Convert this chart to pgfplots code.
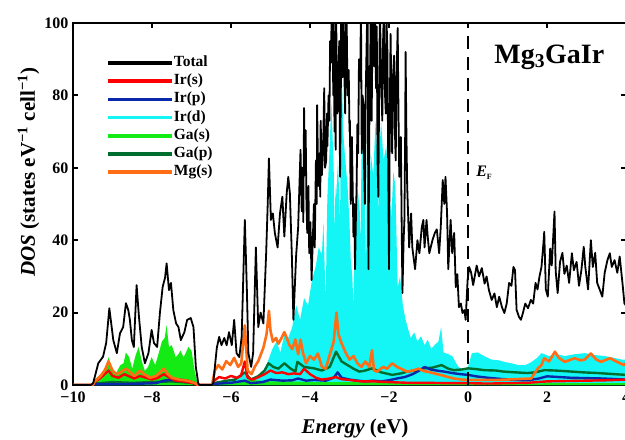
\documentclass[border=0pt]{standalone}
\usepackage{pgfplots}
\pgfplotsset{compat=1.18}
\usepackage{fontspec}
\setmainfont{Liberation Serif}

\definecolor{cIrs}{RGB}{255,0,0}
\definecolor{cIrp}{RGB}{10,40,170}
\definecolor{cIrd}{RGB}{20,245,245}
\definecolor{cGas}{RGB}{20,235,20}
\definecolor{cGap}{RGB}{0,110,45}
\definecolor{cMgs}{RGB}{255,110,20}

\begin{document}
\begin{tikzpicture}
\begin{axis}[
    name=ax,
    scale only axis,
    width=553pt, height=362pt,
    xmin=-10, xmax=4, ymin=0, ymax=100,
    xtick={-10,-8,-6,-4,-2,0,2,4},
    xticklabels={−10,−8,−6,−4,−2,0,2,4},
    ytick={0,20,40,60,80,100},
    yticklabels={0,20,40,60,80,100},
    minor tick num=0,
    major tick length=5pt,
    tick style={line width=1.8pt, black},
    axis line style={line width=2.5pt},
    ticklabel style={font=\fontsize{16}{18}\selectfont\bfseries},
    xticklabel style={yshift=-3pt},
    yticklabel style={xshift=-1pt},
    xlabel={\textit{Energy} (eV)},
    ylabel={\textit{DOS} (states eV\textsuperscript{−1} cell\textsuperscript{−1})},
    label style={font=\fontsize{21}{24}\selectfont\bfseries},
    xlabel style={at={(axis description cs:0.51,-0.133)}, anchor=base},
    ylabel style={at={(axis description cs:-0.069,0.588)}, anchor=base},
    legend style={draw=none, fill=none, inner sep=0pt,
        at={(axis description cs:0.06,0.908)}, anchor=north west,
        font=\fontsize{15.5}{17}\selectfont\bfseries,
        nodes={inner sep=0pt, text height=10pt, text depth=3pt},
        row sep=5.2pt},
    legend cell align=left,
    legend image code/.code={\draw[#1, line width=3.5pt] (0pt,0pt) -- (64pt,0pt);},
    /tikz/every even column/.append style={column sep=8pt},
    clip=true,
]
% legend
\addlegendimage{black}
\addlegendentry{Total}
\addlegendimage{cIrs}
\addlegendentry{Ir(s)}
\addlegendimage{cIrp}
\addlegendentry{Ir(p)}
\addlegendimage{cIrd}
\addlegendentry{Ir(d)}
\addlegendimage{cGas}
\addlegendentry{Ga(s)}
\addlegendimage{cGap}
\addlegendentry{Ga(p)}
\addlegendimage{cMgs}
\addlegendentry{Mg(s)}

% Ir(d) filled
\addplot[draw=none, fill=cIrd, forget plot] coordinates {
(-10,0) (-9.5,0) (-9.45,0.8) (-9.0,1.2) (-8.5,1) (-8.0,1.2) (-7.6,1.5) (-7.2,1.5) (-6.9,1) (-6.83,0)
(-6.48,0) (-6.45,0.8) (-6.0,1.2) (-5.65,3) (-5.5,1.2) (-5.2,3) (-5.05,7) (-4.95,10) (-4.85,12) (-4.75,9)
(-4.65,14) (-4.55,13) (-4.45,16) (-4.35,22) (-4.25,18) (-4.15,24) (-4.05,22) (-3.95,29) (-3.85,33) (-3.78,38)
(-3.70,36) (-3.66,45) (-3.62,29) (-3.60,24) (-3.58,40) (-3.56,52) (-3.51,64) (-3.46,78) (-3.40,60) (-3.38,40) (-3.36,55) (-3.35,50) (-3.29,62) (-3.24,45)
(-3.20,88) (-3.16,70) (-3.12,64) (-3.05,55) (-3.0,45) (-2.97,35) (-2.93,30) (-2.90,22) (-2.86,41) (-2.80,55) (-2.74,48) (-2.72,38) (-2.70,60)
(-2.68,73) (-2.62,55) (-2.60,45) (-2.58,30) (-2.56,68) (-2.52,45) (-2.46,64) (-2.40,58) (-2.34,73) (-2.28,60) (-2.26,45) (-2.24,65) (-2.20,73) (-2.14,62)
(-2.07,66) (-2.0,55) (-1.94,46) (-1.89,59) (-1.84,55) (-1.78,27) (-1.72,30) (-1.65,22) (-1.58,18) (-1.53,16)
(-1.45,13) (-1.36,14.5) (-1.28,12) (-1.19,13.5) (-1.10,11) (-1.02,12.5) (-0.93,10) (-0.85,11) (-0.75,12) (-0.68,16)
(-0.62,9) (-0.5,8.5) (-0.4,8) (-0.3,6) (-0.24,5) (-0.1,4) (0,5) (0.1,8.8) (0.25,9) (0.4,8)
(0.6,7) (0.8,6.8) (0.94,6.3) (1.1,6) (1.28,5.5) (1.45,5.5) (1.6,6.3) (1.75,7.5) (1.86,8.8) (2.05,8)
(2.25,8.5) (2.45,8) (2.7,8.5) (2.96,8.8) (3.2,8.3) (3.46,8) (3.7,7.5) (3.9,7) (4,7) (4,0)
} \closedcycle;

% Ga(s) filled
\addplot[draw=none, fill=cGas, forget plot] coordinates {
(-10,0) (-9.5,0) (-9.45,1.5) (-9.3,3) (-9.2,4) (-9.1,7.7) (-9.0,4) (-8.9,3.5) (-8.8,5.5) (-8.72,6)
(-8.66,9) (-8.58,7.7) (-8.5,4.5) (-8.42,8) (-8.34,10.5) (-8.26,6.6) (-8.18,3.9) (-8.1,5) (-8.01,7.7) (-7.92,5.5)
(-7.85,8) (-7.75,12) (-7.68,13) (-7.63,16.5) (-7.57,10.5) (-7.5,11) (-7.4,7.7) (-7.33,8.5) (-7.28,9.5) (-7.2,7.7)
(-7.14,9) (-7.08,10.5) (-7.0,9.5) (-6.95,6) (-6.92,3.9) (-6.85,0.5) (-6.83,0) (-6.48,0) (-6.45,0.5) (-6.0,0.8)
(-5.6,1.5) (-5.0,1) (-4.5,1) (-4.0,0.8) (-3.0,0.8) (-2.0,0.6) (-1.0,0.4) (0,0.3) (1,0.3) (2,0.5)
(3,0.5) (4,0.5) (4,0)
} \closedcycle;

% Ga(p)
\addplot[cGap, line width=2.4pt, line join=round, forget plot] coordinates {
(-10,0) (-9.5,0) (-9.45,0.4) (-9.0,0.8) (-8.5,0.6) (-8.0,0.8) (-7.5,1) (-7.0,0.6) (-6.85,0) (-6.48,0)
(-6.45,0.5) (-6.1,1.2) (-5.9,1.5) (-5.65,3.5) (-5.5,1.5) (-5.3,2.5) (-5.15,4) (-5.05,6) (-4.93,5) (-4.8,4.5)
(-4.65,6) (-4.5,4.6) (-4.37,3.7) (-4.32,6.4) (-4.15,5) (-3.9,4.6) (-3.7,4) (-3.5,5) (-3.34,9.2) (-3.2,6.5)
(-3.05,5.5) (-2.9,4.5) (-2.75,3.7) (-2.6,4) (-2.43,4.6) (-2.2,3.5) (-1.92,2.8) (-1.7,3.2) (-1.54,3.7) (-1.3,4)
(-1.1,4.6) (-0.9,4.8) (-0.67,5.5) (-0.5,4.5) (-0.36,4.1) (-0.15,4.3) (0,4.6) (0.2,4.4) (0.41,4.1) (0.7,4)
(0.9,3.7) (1.19,3.5) (1.5,3.3) (1.7,3.5) (1.93,4.1) (2.2,4) (2.5,3.8) (2.9,3.5) (3.3,3.3) (3.7,3) (4.0,2.8)
};

% Ir(p)
\addplot[cIrp, line width=2.4pt, line join=round, forget plot] coordinates {
(-10,0) (-9.5,0) (-9.45,0.2) (-8.5,0.3) (-7.9,0.5) (-7.7,1.2) (-7.5,1.5) (-7.3,1.5) (-7.1,1.2) (-6.9,0.5)
(-6.85,0) (-6.48,0) (-6.45,0.3) (-6.0,0.6) (-5.65,1.2) (-5.5,0.5) (-5.2,0.8) (-5.0,1.5) (-4.7,1.2) (-4.45,1.3)
(-4.3,1.8) (-4.1,1.2) (-3.9,1.4) (-3.6,1.2) (-3.4,2) (-3.3,3.5) (-3.2,2) (-3.0,1.5) (-2.8,1.2) (-2.6,1)
(-2.4,1.2) (-2.2,1) (-2.0,1.3) (-1.8,1.8) (-1.6,2.2) (-1.4,3) (-1.2,4.2) (-1.1,5) (-0.95,4.3) (-0.8,4)
(-0.6,3.7) (-0.4,3.3) (-0.2,3) (0,2.8) (0.2,2.4) (0.5,2) (0.8,1.7) (1.2,1.4) (1.5,1.3) (1.8,1.8)
(2.0,2.4) (2.3,2.2) (2.6,2) (3.0,1.9) (3.4,1.8) (3.8,1.6) (4.0,1.5)
};

% Ir(s)
\addplot[cIrs, line width=2.4pt, line join=round, forget plot] coordinates {
(-10,0) (-9.5,0) (-9.45,0.8) (-9.3,2) (-9.1,4) (-9.0,2.5) (-8.85,2) (-8.7,3) (-8.6,2.5) (-8.45,1.8)
(-8.3,2.5) (-8.15,2) (-8.0,1.5) (-7.85,2) (-7.7,3) (-7.55,2) (-7.4,1.2) (-7.2,1) (-6.95,0.5) (-6.85,0)
(-6.48,0) (-6.45,1) (-6.3,2.2) (-6.15,1.8) (-6.0,2.5) (-5.85,2) (-5.75,2.5) (-5.65,6.5) (-5.58,2) (-5.45,1.5)
(-5.3,2.2) (-5.15,3) (-5.0,4) (-4.85,3.3) (-4.7,3.5) (-4.55,3) (-4.4,3.2) (-4.25,3) (-4.15,4.5) (-4.0,3)
(-3.85,2) (-3.7,1.5) (-3.5,1.8) (-3.35,2.2) (-3.2,1.6) (-3.0,1.4) (-2.7,1) (-2.4,1) (-2.0,0.8) (-1.5,0.6)
(-1.0,0.6) (-0.5,0.5) (0,0.5) (0.5,0.4) (1.0,0.5) (1.5,0.6) (2.0,1) (2.5,1.1) (3.0,1.2) (3.5,1.3) (4.0,1.5)
};

% Mg(s)
\addplot[cMgs, line width=2.6pt, line join=round, forget plot] coordinates {
(-10,0) (-9.5,0) (-9.45,1) (-9.3,2.5) (-9.2,4) (-9.1,6.5) (-9.0,4) (-8.9,3) (-8.8,3.5) (-8.65,4.5)
(-8.55,3.5) (-8.45,2.5) (-8.3,4) (-8.2,3) (-8.05,2) (-7.9,2.5) (-7.8,3.5) (-7.7,4.5) (-7.6,3) (-7.5,2)
(-7.3,1.5) (-7.1,1.2) (-6.9,0.5) (-6.83,0) (-6.48,0) (-6.41,4) (-6.32,5.5) (-6.22,4.3) (-6.12,6.6) (-6.02,5.5)
(-5.92,7.5) (-5.82,5) (-5.74,6) (-5.65,16.5) (-5.58,4) (-5.48,3) (-5.40,5) (-5.31,6.6) (-5.18,10.3) (-5.10,14)
(-5.04,20.5) (-5.0,15) (-4.94,12) (-4.86,13) (-4.80,11.4) (-4.72,13) (-4.65,14.6) (-4.57,12.5) (-4.52,11) (-4.45,9.9)
(-4.37,12.6) (-4.30,8.5) (-4.24,12.5) (-4.18,9) (-4.10,6) (-4.0,8) (-3.9,7) (-3.80,8.7) (-3.70,5) (-3.60,4.5)
(-3.51,8) (-3.40,12) (-3.33,20) (-3.28,14) (-3.20,11.5) (-3.10,9) (-3.0,7) (-2.90,8) (-2.80,6) (-2.70,5)
(-2.60,6.5) (-2.50,5) (-2.43,9.6) (-2.38,4) (-2.30,3.7) (-2.15,5) (-2.05,4.5) (-1.92,6) (-1.80,5) (-1.70,4.5)
(-1.54,3.7) (-1.40,4) (-1.25,4.5) (-1.10,3.8) (-1.03,3.7) (-0.85,3.2) (-0.70,2.8) (-0.50,2.2) (-0.36,1.8) (-0.15,1.5)
(0,1.4) (0.4,1.4) (0.76,1.4) (1.2,1.6) (1.6,1.8) (1.77,4.6) (1.86,5.5) (1.93,7.4) (2.05,6.5) (2.2,9.2)
(2.3,7.5) (2.45,6.4) (2.6,7) (2.7,7.4) (2.85,6.8) (2.95,7) (3.11,8.7) (3.25,7) (3.37,6.4) (3.5,7)
(3.6,7.4) (3.75,6.5) (3.85,6) (3.95,5.5) (4.0,6)
};

% Total
\addplot[black, line width=1.8pt, line join=round, forget plot] coordinates {
(-10,0) (-9.55,0) (-9.49,0.5) (-9.36,6) (-9.24,7.8) (-9.16,11.6) (-9.08,21.2) (-8.98,12.4) (-8.89,8.8) (-8.81,14.3)
(-8.73,16) (-8.66,22.6) (-8.60,20.7) (-8.56,18) (-8.51,12.4) (-8.46,10.5) (-8.39,27.6) (-8.33,18.8) (-8.26,10.5) (-8.18,6)
(-8.09,8.8) (-8.01,15.2) (-7.95,11.6) (-7.87,10.5) (-7.80,19.9) (-7.73,27.1) (-7.67,29.6) (-7.63,33.6) (-7.57,26.2) (-7.52,28.2)
(-7.46,20.7) (-7.39,17) (-7.33,16) (-7.27,12.4) (-7.18,14.6) (-7.11,18) (-7.02,18.5) (-6.95,16) (-6.89,5) (-6.83,0.5)
(-6.80,0) (-6.48,0) (-6.45,0.5) (-6.36,10.2) (-6.30,13.3) (-6.24,11) (-6.17,13) (-6.11,11) (-6.05,14.6) (-5.98,11)
(-5.92,18) (-5.86,8.8) (-5.79,7.7) (-5.73,13.3) (-5.65,45.6) (-5.60,27) (-5.56,8.8) (-5.49,5) (-5.44,8.8) (-5.37,38)
(-5.31,16) (-5.25,20) (-5.18,17) (-5.11,36.4) (-5.07,50.2) (-5.04,62.6) (-4.99,45.6) (-4.94,47.4) (-4.89,42) (-4.82,38)
(-4.76,47.4) (-4.70,52) (-4.65,41) (-4.59,53) (-4.55,57.5) (-4.51,53) (-4.46,36) (-4.42,18) (-4.35,36) (-4.30,43.6)
(-4.24,65) (-4.21,48) (-4.19,60) (-4.17,45) (-4.15,76.5) (-4.13,58) (-4.11,70.4) (-4.09,50) (-4.07,42) (-4.04,55)
(-4.02,36.4) (-3.99,45) (-3.96,29) (-3.93,40) (-3.90,50) (-3.88,38) (-3.85,62) (-3.83,50) (-3.82,77.3) (-3.79,55)
(-3.76,64) (-3.74,52) (-3.73,73) (-3.70,58) (-3.68,62) (-3.66,70) (-3.64,82) (-3.62,60) (-3.59,62) (-3.57,75)
(-3.56,66) (-3.53,80) (-3.51,73) (-3.49,95) (-3.47,89) (-3.45,104) (-3.43,98) (-3.41,80) (-3.40,104) (-3.38,70)
(-3.37,87) (-3.35,65) (-3.34,104) (-3.31,75) (-3.28,82) (-3.26,95) (-3.24,57.5) (-3.22,80) (-3.21,104) (-3.18,85)
(-3.16,104) (-3.14,92) (-3.11,75) (-3.09,104) (-3.07,99) (-3.05,80) (-3.02,87) (-3.0,70) (-2.99,73) (-2.97,50)
(-2.94,68.5) (-2.92,55) (-2.90,41) (-2.88,50) (-2.86,32) (-2.84,45) (-2.82,55) (-2.80,72) (-2.78,64) (-2.76,90)
(-2.73,84) (-2.71,104) (-2.69,64) (-2.67,80) (-2.65,78) (-2.63,60) (-2.61,50) (-2.59,80) (-2.56,98) (-2.54,104)
(-2.52,32) (-2.50,70) (-2.48,86) (-2.46,104) (-2.44,73) (-2.42,95) (-2.39,104) (-2.37,88) (-2.35,104) (-2.33,82)
(-2.31,99) (-2.29,62) (-2.27,52) (-2.25,80) (-2.23,104) (-2.20,85) (-2.17,73) (-2.15,95) (-2.13,104) (-2.10,80)
(-2.08,75) (-2.06,100) (-2.04,92) (-2.02,60) (-2.00,32) (-1.98,75) (-1.96,97) (-1.94,80) (-1.92,64) (-1.90,85)
(-1.87,91) (-1.85,70) (-1.83,62) (-1.81,85) (-1.78,98.6) (-1.76,75) (-1.74,57.5) (-1.72,62) (-1.70,68.5) (-1.68,45)
(-1.66,25.4) (-1.63,40) (-1.61,45.6) (-1.59,70) (-1.58,92) (-1.56,70) (-1.54,55) (-1.51,45) (-1.49,38) (-1.44,47.4)
(-1.41,38) (-1.34,32) (-1.28,40) (-1.23,36.4) (-1.17,43.6)
(-1.13,45.6) (-1.10,38) (-1.05,45.6) (-1.02,41) (-0.98,36.4) (-0.90,40) (-0.84,42) (-0.79,43) (-0.73,36.4) (-0.69,43.6)
(-0.64,56.6) (-0.60,50) (-0.57,57.5) (-0.53,47.4) (-0.50,32) (-0.44,45.6) (-0.40,36.4) (-0.35,42) (-0.31,27) (-0.27,30.6)
(-0.23,21.5) (-0.18,22.5) (-0.14,19.9) (-0.09,20.7) (-0.06,18) (-0.01,29) (0.03,32.6) (0.08,31) (0.13,27.6) (0.22,33)
(0.28,30) (0.35,32.3) (0.42,28) (0.47,30) (0.53,26.2) (0.60,23.5) (0.67,25.3) (0.73,21.5) (0.79,24.4) (0.86,21.5)
(0.92,19.9) (0.98,22.5) (1.04,28.2) (1.10,27.4) (1.15,32.6) (1.19,31.7) (1.23,20.8) (1.29,18.8) (1.34,18) (1.39,19.9)
(1.45,22.5) (1.52,21.2) (1.59,23.5) (1.65,22.5) (1.71,28.2) (1.76,26.4) (1.81,30) (1.86,32.6) (1.91,39.2) (1.93,42.3)
(1.97,26.4) (2.02,24.4) (2.08,37.7) (2.12,33) (2.19,47.9) (2.22,31.4) (2.27,25.4) (2.33,34) (2.39,36.5) (2.44,30.7)
(2.50,33) (2.56,28.2) (2.63,36.4) (2.68,31.7) (2.75,34) (2.81,27.4) (2.87,31.7) (2.93,38.2) (2.97,32.6) (3.04,26.4)
(3.11,40) (3.16,32.6) (3.22,36.5) (3.27,28.2) (3.34,26.2) (3.40,24.4) (3.46,31) (3.53,34.5) (3.59,36.4) (3.64,32.6)
(3.71,34.5) (3.78,31) (3.84,35.5) (3.91,28.2) (3.96,22.5) (4.0,22)
};

% Fermi level
\addplot[black, line width=2.4pt, dash pattern=on 13pt off 8pt, forget plot] coordinates {(0,0) (0,100)};

\node[anchor=west, font=\fontsize{16}{18}\selectfont\bfseries\itshape] at (axis cs:0.12,58.6) {E\textsubscript{\upshape\fontsize{8}{9}\selectfont F}};
\node[font=\fontsize{28}{32}\selectfont\bfseries] at (axis cs:2.06,90.5) {Mg\textsubscript{3}GaIr};
\end{axis}
\pgfresetboundingbox
\path ([shift={(-73pt,-54pt)}]ax.south west) rectangle ([shift={(-1pt,23pt)}]ax.north east);
\end{tikzpicture}
\end{document}
